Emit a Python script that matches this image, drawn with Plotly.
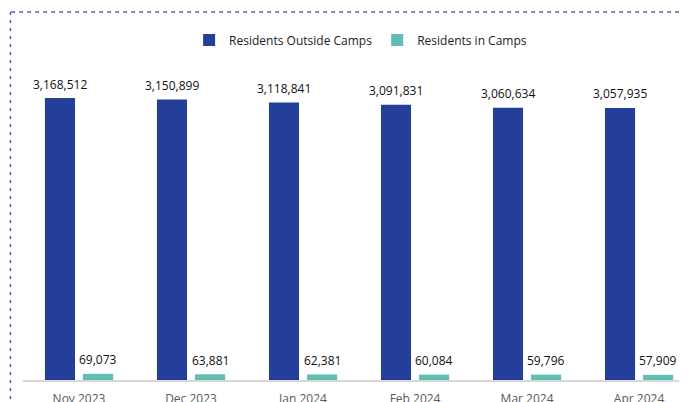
import plotly.graph_objects as go

months = ["Nov 2023", "Dec 2023", "Jan 2024", "Feb 2024", "Mar 2024", "Apr 2024"]
outside_camps = [3168512, 3150899, 3118841, 3091831, 3060634, 3057935]
in_camps = [69073, 63881, 62381, 60084, 59796, 57909]

BLUE = "#233f99"
TEAL = "#5fbdb3"
FONT = "Open Sans"

fig = go.Figure()
fig.add_trace(go.Bar(
    name="Residents Outside Camps", x=months, y=outside_camps,
    marker=dict(color=BLUE, line=dict(width=0)),
    hovertemplate="%{x}: %{y:,}<extra></extra>",
))
fig.add_trace(go.Bar(
    name="Residents in Camps", x=months, y=in_camps,
    marker=dict(color=TEAL, line=dict(width=0)),
    hovertemplate="%{x}: %{y:,}<extra></extra>",
))

annotations = []
for series, shift in ((outside_camps, -19), (in_camps, 19)):
    for m, v in zip(months, series):
        annotations.append(dict(
            x=m, y=v, xref="x", yref="y", text=f"{v:,}", showarrow=False,
            xshift=shift, yshift=14, yanchor="middle", xanchor="center",
            font=dict(size=12, color="#111111", family=FONT),
        ))

fig.update_layout(
    width=679, height=394,
    margin=dict(l=15, r=2, t=52, b=22, autoexpand=False),
    paper_bgcolor="white", plot_bgcolor="white",
    barmode="group", bargap=0.32, bargroupgap=0.21,
    font=dict(family=FONT, size=12, color="#333333"),
    showlegend=True,
    legend=dict(orientation="h", x=0.51, xanchor="center", y=1.0625, yanchor="middle",
                font=dict(size=12, color="#222222", family=FONT),
                itemwidth=30, traceorder="normal"),
    xaxis=dict(range=[-0.5, 5.41], showline=True, linecolor="#d9d9d9", linewidth=1.5,
               ticks="outside", ticklen=7, tickcolor="rgba(0,0,0,0)", automargin=False,
               tickfont=dict(size=12, color="#595959", family=FONT),
               showgrid=False, fixedrange=True),
    yaxis=dict(range=[0, 3596000], visible=False, showgrid=False, fixedrange=True),
    annotations=annotations,
    shapes=[
        dict(type="line", xref="paper", yref="paper", x0=-0.018, x1=1.02, y0=1.15, y1=1.15,
             line=dict(color="#4f5fb0", width=1.5, dash="4px,4px")),
        dict(type="line", xref="paper", yref="paper", x0=-0.019, x1=-0.019, y0=1.15, y1=-0.07,
             line=dict(color="#4f5fb0", width=1.5, dash="3px,5px")),
    ],
)

fig.write_html("out.html")
